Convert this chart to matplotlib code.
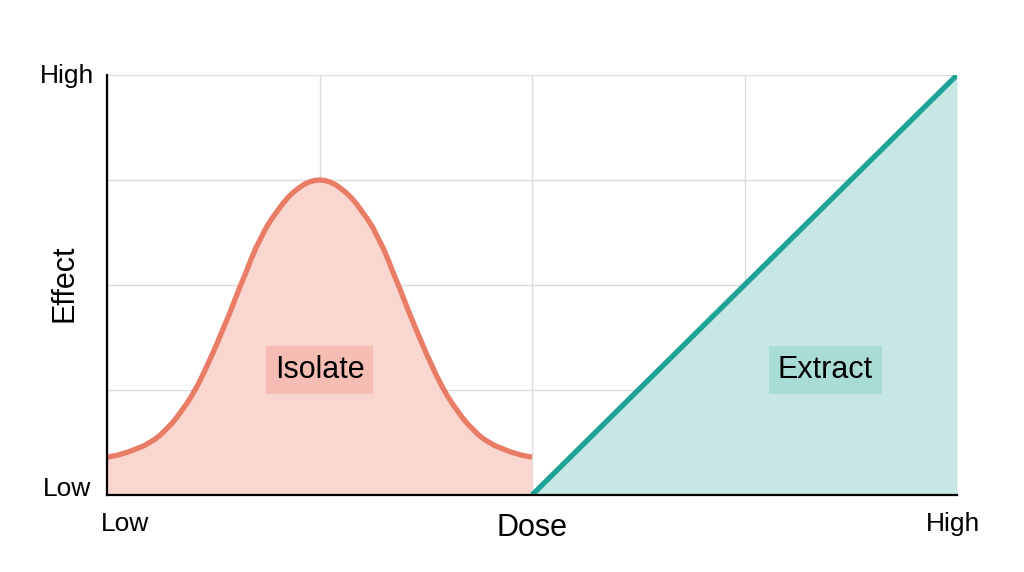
import numpy as np
import matplotlib.pyplot as plt

plt.rcParams['font.family'] = ['Liberation Sans', 'DejaVu Sans']

# values (grid units: 0 = Low, 4 = High)
iso_offset = [0.0, 0.025, 0.05, 0.075, 0.10, 0.125, 0.15, 0.175, 0.20, 0.225,
              0.25, 0.275, 0.30, 0.325, 0.35, 0.375, 0.40, 0.425, 0.45, 0.475,
              0.50, 0.525, 0.55, 0.575, 0.60, 0.625, 0.65, 0.675, 0.70, 0.725,
              0.75, 0.775, 0.80, 0.825, 0.85, 0.875, 0.90, 0.925, 0.95, 0.975,
              1.00]
iso_half = [3.00, 2.995, 2.98, 2.955, 2.92, 2.88, 2.83, 2.77, 2.70, 2.63,
            2.55, 2.45, 2.35, 2.23, 2.10, 1.98, 1.85, 1.72, 1.60, 1.48,
            1.36, 1.25, 1.14, 1.04, 0.95, 0.87, 0.80, 0.73, 0.67, 0.62,
            0.57, 0.53, 0.50, 0.47, 0.45, 0.43, 0.41, 0.395, 0.38, 0.37,
            0.36]
iso_center = 1.0

# curve is symmetric around the centre, build both sides from the half read
isolate_dose = np.concatenate([iso_center - np.array(iso_offset[::-1]),
                               iso_center + np.array(iso_offset[1:])])
isolate_effect = np.concatenate([iso_half[::-1], iso_half[1:]])

extract_dose = [2.0, 4.0]
extract_effect = [0.0, 4.0]

red_line = '#E87C66'
red_fill = '#F9D6CF'
teal_line = '#1FA396'
teal_fill = '#C6E7E3'

fig = plt.figure(figsize=(10.24, 5.72), dpi=100)
ax = fig.add_axes([0.1045, 0.1346, 0.8301, 0.7343])

ax.fill_between(isolate_dose, 0, isolate_effect, color=red_fill, lw=0, zorder=1)
ax.plot(isolate_dose, isolate_effect, color=red_line, lw=3.8,
        solid_capstyle='butt', solid_joinstyle='round', zorder=3)
ax.fill_between(extract_dose, 0, extract_effect, color=teal_fill, lw=0, zorder=1)
ax.plot(extract_dose, extract_effect, color=teal_line, lw=3.8,
        solid_capstyle='butt', zorder=3)

ax.set_xlim(0, 4)
ax.set_ylim(0, 4)
ax.set_xticks([0, 1, 2, 3, 4])
ax.set_yticks([0, 1, 2, 3, 4])
ax.set_xticklabels([])
ax.set_yticklabels([])
ax.tick_params(length=0)
ax.grid(True, color='#dcdcdc', lw=1.0, zorder=0)
ax.set_axisbelow(True)
for s in ['top', 'right']:
    ax.spines[s].set_visible(False)
ax.spines['left'].set_linewidth(1.6)
ax.spines['bottom'].set_linewidth(1.6)
ax.spines['left'].set_zorder(4)
ax.spines['bottom'].set_zorder(4)

tk = dict(fontsize=19, ha='center', va='center', clip_on=False)
ax.text(-0.19, 3.99, 'High', **tk)
ax.text(-0.19, 0.06, 'Low', **tk)
ax.text(0.085, -0.28, 'Low', **tk)
ax.text(3.98, -0.28, 'High', **tk)
ax.text(2.0, -0.31, 'Dose', fontsize=22, ha='center', va='center', clip_on=False)
ax.text(-0.2, 2.02, 'Effect', fontsize=22, ha='center', va='center',
        rotation=90, clip_on=False)

ax.text(1.0, 1.19, 'Isolate', fontsize=22, ha='center', va='center', zorder=5,
        bbox=dict(boxstyle='square,pad=0.3', fc='#F5BDB3', ec='none'))
ax.text(3.38, 1.19, 'Extract', fontsize=22, ha='center', va='center', zorder=5,
        bbox=dict(boxstyle='square,pad=0.3', fc='#A8DCD5', ec='none'))

plt.savefig('out.png', dpi=100)
